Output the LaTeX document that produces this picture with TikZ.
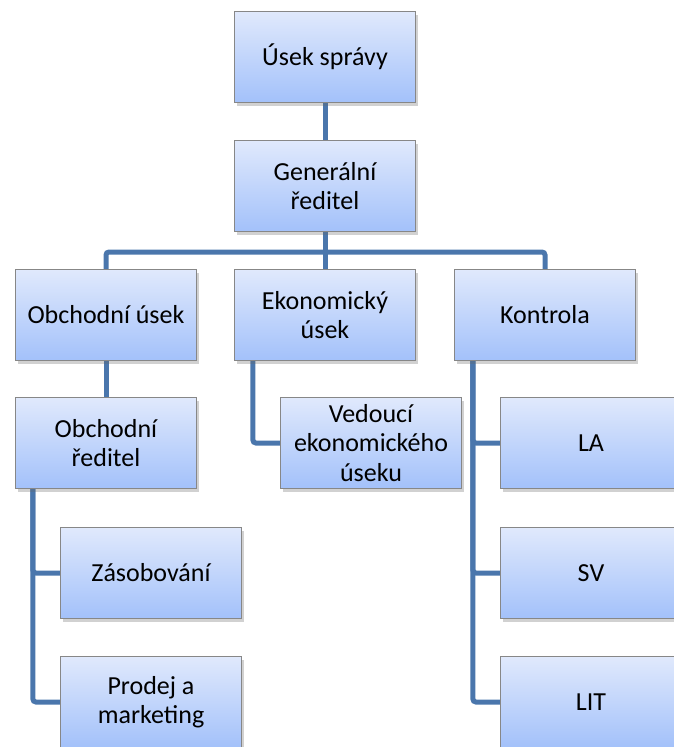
\documentclass[tikz,border=0pt]{standalone}
\usepackage{fontspec}
\setmainfont{Carlito}
\usetikzlibrary{shadows,backgrounds}
\definecolor{boxtop}{RGB}{224,233,252}
\definecolor{boxbot}{RGB}{163,193,250}
\definecolor{boxline}{RGB}{135,135,135}
\definecolor{linkblue}{RGB}{74,118,172}
\begin{document}
\begin{tikzpicture}[x=1pt, y=-1pt,
    unit/.style={rectangle, draw=boxline, line width=1.2pt, top color=boxtop, bottom color=boxbot,
        minimum width=181pt, minimum height=91pt, inner sep=2pt, align=center,
        font=\fontsize{26}{29.5}\selectfont,
        drop shadow={shadow xshift=2pt, shadow yshift=-3pt, opacity=0.3, fill=black!60}},
    link/.style={draw=linkblue, line width=5pt, rounded corners=3pt}]
    \useasboundingbox (0,0) rectangle (674,747);

    \begin{scope}[every node/.style={unit}]
        \node (sprava) at (325,57) {Úsek správy};
        \node (gen) at (325,186) {Generální\\ředitel};
        \node (obch) at (106,315) {Obchodní úsek};
        \node (ekon) at (325,315) {Ekonomický\\úsek};
        \node (kontr) at (545,315) {Kontrola};
        \node (obchred) at (106,443) {Obchodní\\ředitel};
        \node (vedouci) at (371,443) {Vedoucí\\ekonomického\\úseku};
        \node (zasob) at (151,573) {Zásobování};
        \node (prodej) at (151,702) {Prodej a\\marketing};
        \node (la) at (591,443) {LA};
        \node (sv) at (591,573) {SV};
        \node (lit) at (591,702) {LIT};
    \end{scope}
    \coordinate (bus) at (325,252);

    \begin{pgfonlayer}{background}
    \begin{scope}[every path/.style={link}]
        \draw (sprava) -- (gen);
        \draw (gen) -- (ekon);
        \draw (obch.north) |- (bus) -| (kontr.north);
        \draw (obch) -- (obchred);
        \draw ([xshift=19pt]ekon.south west) |- (vedouci.west);
        \draw ([xshift=18pt]obchred.south west) |- (zasob.west);
        \draw ([xshift=18pt]obchred.south west) |- (prodej.west);
        \draw ([xshift=19pt]kontr.south west) |- (la.west);
        \draw ([xshift=19pt]kontr.south west) |- (sv.west);
        \draw ([xshift=19pt]kontr.south west) |- (lit.west);
    \end{scope}
    \end{pgfonlayer}
\end{tikzpicture}
\end{document}
